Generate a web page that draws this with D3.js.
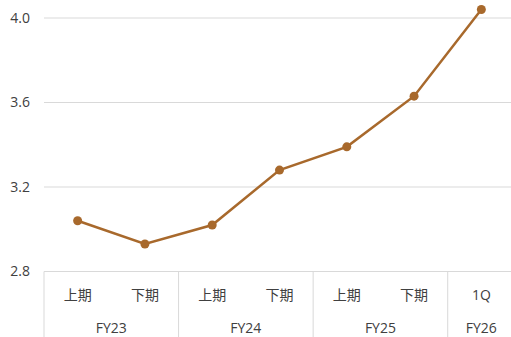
<!DOCTYPE html>
<html>
<head>
<meta charset="utf-8">
<script src="https://cdn.jsdelivr.net/npm/d3@7"></script>
<style>
  html, body { margin: 0; padding: 0; background: #fff; }
  svg { display: block; }
  text { font-family: "Open Sans", "Noto Sans CJK JP", sans-serif; fill: #404040; }
</style>
</head>
<body>
<svg id="chart" width="511" height="337"></svg>
<script>
// Half-year values, grouped by fiscal year
const periods = ["上期", "下期", "上期", "下期", "上期", "下期", "1Q"];
const fiscalYears = ["FY23", "FY24", "FY25", "FY26"];
const yearSpans = [2, 2, 2, 1];
const values = [3.04, 2.93, 3.02, 3.28, 3.39, 3.63, 4.04];
const yTicks = [2.8, 3.2, 3.6, 4.0];

const svg = d3.select("#chart");
const plot = { left: 44, right: 515, top: 18, bottom: 271.5 };

const keys = periods.map((_, i) => i);
const x = d3.scaleBand().domain(keys).range([plot.left, plot.right]);
const y = d3.scaleLinear().domain([2.8, 4.0]).range([plot.bottom, plot.top]);

// Horizontal gridlines
svg.append("g")
  .selectAll("line")
  .data(yTicks)
  .join("line")
  .attr("x1", plot.left).attr("x2", 511)
  .attr("y1", d => y(d)).attr("y2", d => y(d))
  .attr("stroke", "#d9d9d9").attr("stroke-width", 1);

// Y axis labels
const yAxis = d3.axisLeft(y).tickValues(yTicks).tickFormat(d3.format(".1f")).tickSize(0).tickPadding(14);
const yg = svg.append("g").attr("transform", `translate(${plot.left},0)`).call(yAxis);
yg.select(".domain").remove();
yg.selectAll("text").style("font-size", "14px").attr("fill", "#404040")
  .style("font-family", "'Open Sans', sans-serif");

// Category group boxes
const boundaries = [0];
yearSpans.forEach(s => boundaries.push(boundaries[boundaries.length - 1] + s));
svg.append("g")
  .selectAll("line")
  .data(boundaries.slice(0, -1))
  .join("line")
  .attr("x1", d => x(d)).attr("x2", d => x(d))
  .attr("y1", plot.bottom).attr("y2", 337)
  .attr("stroke", "#d9d9d9");

// Period labels
svg.append("g")
  .selectAll("text")
  .data(periods)
  .join("text")
  .attr("x", (d, i) => x(i) + x.bandwidth() / 2)
  .attr("y", 300)
  .attr("text-anchor", "middle")
  .style("font-size", "14px")
  .text(d => d);

// Fiscal year labels
svg.append("g")
  .selectAll("text")
  .data(fiscalYears)
  .join("text")
  .attr("x", (d, i) => {
    const a = x(boundaries[i]);
    const b = x(boundaries[i + 1] - 1) + x.bandwidth();
    return (a + b) / 2;
  })
  .attr("y", 333)
  .attr("text-anchor", "middle")
  .style("font-size", "14px")
  .text(d => d);

// Line and markers
const color = "#a8692c";
const line = d3.line().x((d, i) => x(i) + x.bandwidth() / 2).y(d => y(d));
svg.append("path")
  .datum(values)
  .attr("d", line)
  .attr("fill", "none")
  .attr("stroke", color)
  .attr("stroke-width", 2.5);

svg.append("g")
  .selectAll("circle")
  .data(values)
  .join("circle")
  .attr("cx", (d, i) => x(i) + x.bandwidth() / 2)
  .attr("cy", d => y(d))
  .attr("r", 4.5)
  .attr("fill", color);
</script>
</body>
</html>
